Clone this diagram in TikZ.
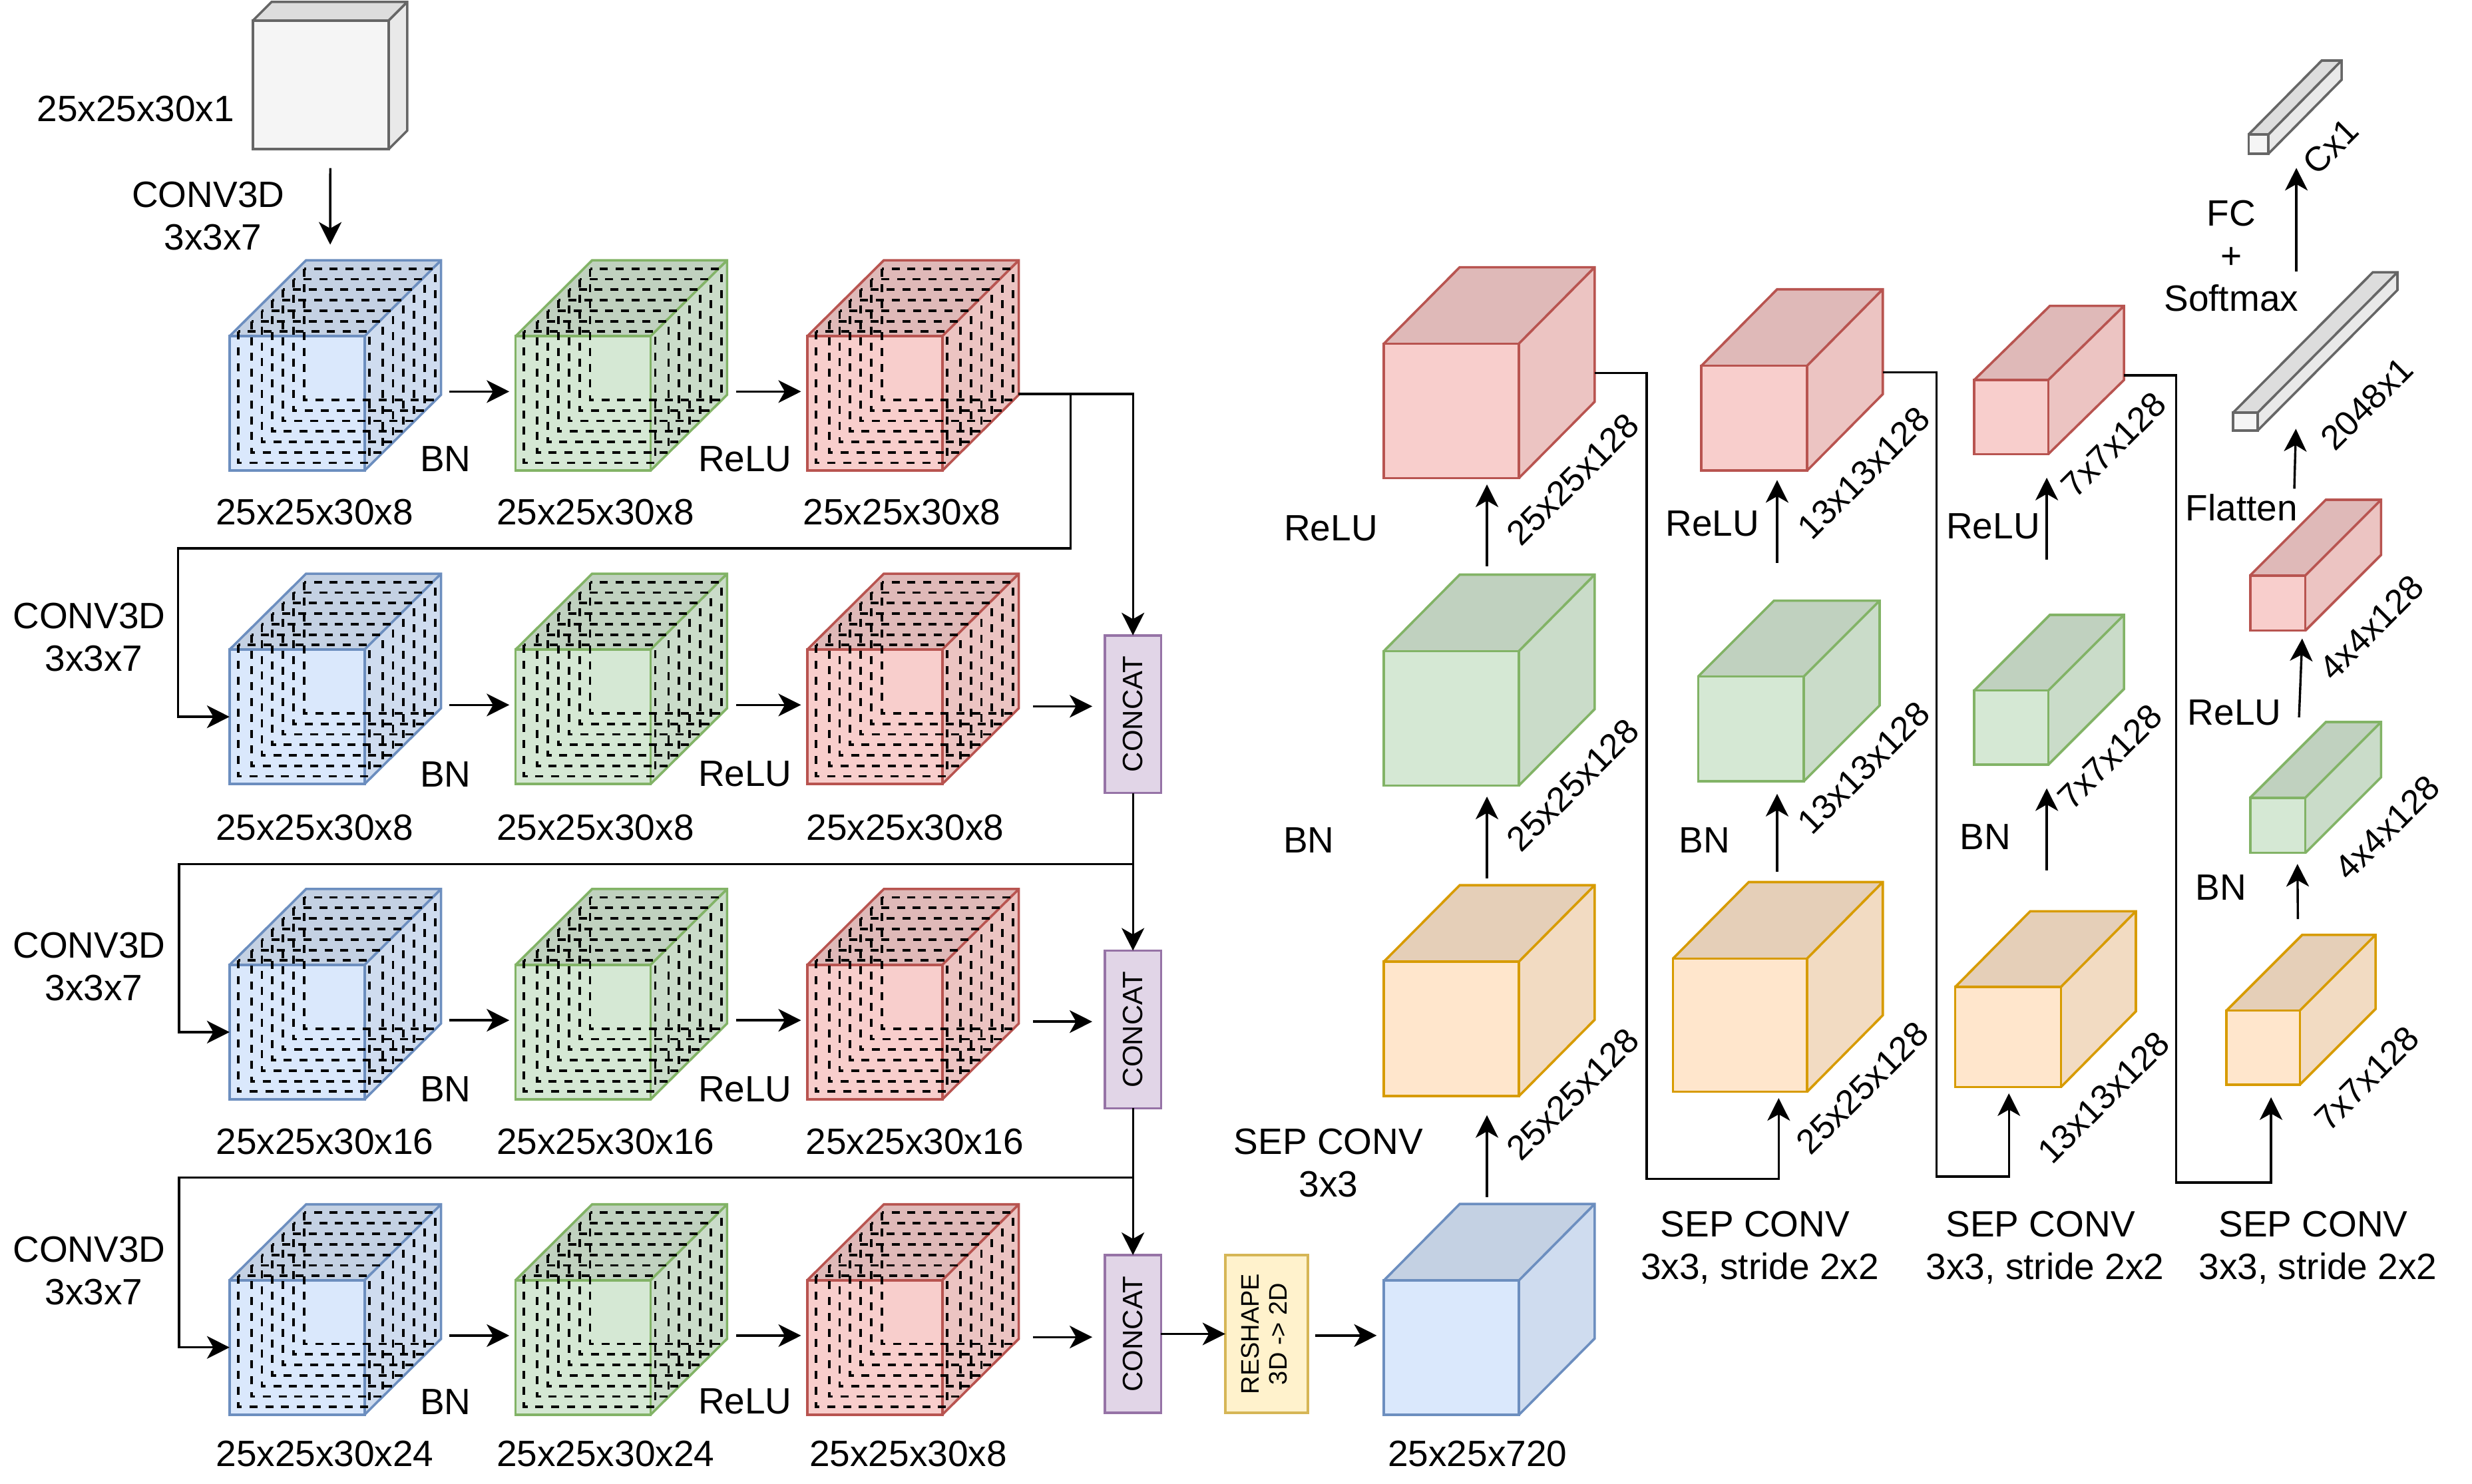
\documentclass[tikz,border=0pt]{standalone}
\usepackage{fontspec}
\setmainfont{Liberation Sans}
\usetikzlibrary{arrows.meta}
\definecolor{bF}{HTML}{DAE8FC}\definecolor{bS}{HTML}{6C8EBF}
\definecolor{gF}{HTML}{D5E8D4}\definecolor{gS}{HTML}{82B366}
\definecolor{rF}{HTML}{F8CECC}\definecolor{rS}{HTML}{B85450}
\definecolor{oF}{HTML}{FFE6CC}\definecolor{oS}{HTML}{D79B00}
\definecolor{pF}{HTML}{E1D5E7}\definecolor{pS}{HTML}{9673A6}
\definecolor{yF}{HTML}{FFF2CC}\definecolor{yS}{HTML}{D6B656}
\definecolor{wF}{HTML}{F5F5F5}\definecolor{wS}{HTML}{666666}
\tikzset{
  arr/.style={-{Stealth[length=8.5pt,width=8.5pt,inset=2.4pt]},line width=0.85pt,black},
  lab/.style={inner sep=0pt,outer sep=0pt,font=\fontsize{13.75}{16}\selectfont,align=center},
  rlab/.style={inner sep=0pt,outer sep=0pt,font=\fontsize{13}{16}\selectfont,rotate=45},
  hatch/.style={black,line width=0.95pt,dash pattern=on 3pt off 2.95pt},
  barbox/.style={draw=#1S,fill=#1F,line width=0.9pt,inner sep=0pt,outer sep=0pt,text=black},
}
% name, x, y, w, h, dx, dy, colour key
\newcommand{\mycube}[8]{%
  \fill[#8F!90!black] (#2,#3) -- ++(#6,-#7) -- ++(#4,0) -- ++(-#6,#7) -- cycle;
  \fill[#8F!95!black] ({#2+#4},#3) -- ++(#6,-#7) -- ++(0,#5) -- ++(-#6,#7) -- cycle;
  \draw[#8S,line width=0.9pt,line join=miter] (#2,#3) -- ++(#6,-#7) -- ++(#4,0) -- ++(0,#5) -- ++(-#6,#7)
     ({#2+#4},#3) -- ++(#6,-#7);
  \node[barbox=#8,minimum width={#4*0.59225pt},minimum height={#5*0.59225pt}] (#1) at ({#2+#4/2},{#3+#5/2}) {};
}
% x, y of the front face: nested dashed squares
\newcommand{\myhatch}[2]{%
  \draw[hatch] ({#1+5.36},{#2-2.83}) rectangle ++(83.2,83.2);
  \foreach \i in {0,...,5} {
    \draw[hatch] ({#1+13.8+6.68*\i},{#2-9.4-6.68*\i}) rectangle ++(83.2,83.2);
  }
}
\newcommand{\hcube}[4]{\mycube{#1}{#2}{#3}{85.6}{85.3}{48.5}{48.1}{#4}\myhatch{#2}{#3}}
\begin{document}
\begin{tikzpicture}[x=0.59225pt,y=-0.59225pt]
\useasboundingbox (0,0) rectangle (1567.7,940.9);
% input
\mycube{inp}{160.4}{13}{86.1}{81.6}{11.8}{11.8}{w}
% 3D rows
\hcube{c11}{145.6}{213.2}{b}\hcube{c12}{327}{213.2}{g}\hcube{c13}{512}{213.2}{r}
\hcube{c21}{145.6}{412}{b}\hcube{c22}{327}{412}{g}\hcube{c23}{512}{412}{r}
\hcube{c31}{145.6}{612}{b}\hcube{c32}{327}{612}{g}\hcube{c33}{512}{612}{r}
\hcube{c41}{145.6}{812}{b}\hcube{c42}{327}{812}{g}\hcube{c43}{512}{812}{r}
% concat and reshape
\node[barbox=p,minimum width={35.6*0.59225pt},minimum height={100*0.59225pt}] (con1) at (718.5,453) {\rotatebox{90}{\fontsize{10.5}{12}\selectfont CONCAT}};
\node[barbox=p,minimum width={35.6*0.59225pt},minimum height={100*0.59225pt}] (con2) at (718.5,653) {\rotatebox{90}{\fontsize{10.5}{12}\selectfont CONCAT}};
\node[barbox=p,minimum width={35.6*0.59225pt},minimum height={100*0.59225pt}] (con3) at (718.5,846.1) {\rotatebox{90}{\fontsize{10.5}{12}\selectfont CONCAT}};
\node[barbox=y,minimum width={52.4*0.59225pt},minimum height={100*0.59225pt}] (rs) at (803.2,846.1) {\rotatebox{90}{\fontsize{9.5}{11.5}\selectfont\begin{tabular}{@{}c@{}}RESHAPE\\[-1pt]3D -> 2D\end{tabular}}};
% 2D columns
\mycube{b1}{877.6}{812.2}{85.6}{85.3}{48.1}{48.5}{b}
\mycube{o1}{877.6}{610}{85.6}{85.3}{48.1}{48.5}{o}
\mycube{g1}{877.6}{413}{85.6}{85.3}{48.1}{48.5}{g}
\mycube{r1}{877.6}{218}{85.6}{85.3}{48.1}{48.5}{r}
\mycube{o2}{1061}{608}{85}{84.5}{48}{48.5}{o}
\mycube{g2}{1077}{429}{67}{66.5}{48}{48}{g}
\mycube{r2}{1079}{232}{67}{66.5}{48}{48.5}{r}
\mycube{o3}{1240}{626}{67}{63.5}{47.5}{48}{o}
\mycube{g3}{1252}{438}{47}{47}{48}{48}{g}
\mycube{r3}{1252}{241}{47}{47}{48}{47}{r}
\mycube{o4}{1412}{641}{46.5}{47}{48}{48}{o}
\mycube{g4}{1427}{506}{35}{35}{48}{48}{g}
\mycube{r4}{1427}{365}{35}{35}{48}{48}{r}
\mycube{bar1}{1416.2}{261.7}{15.6}{11.3}{88.6}{89}{w}
\mycube{bar2}{1426}{85.3}{12.6}{12.2}{46.4}{46.9}{w}
% arrows
\draw[arr] ([shift={(6,12)}]inp.south) -- ([shift={(21,-58)}]c11.north);
\foreach \r in {1,2,3,4} {
  \draw[arr] ([shift={(53.8,-7.5)}]c\r1.east) -- ([shift={(-4,-7.5)}]c\r2.west);
  \draw[arr] ([shift={(54.4,-7.5)}]c\r2.east) -- ([shift={(-4,-7.5)}]c\r3.west);
}
\draw[arr] ([shift={(57.4,-6.65)}]c23.east) -- ([shift={(-8,-5)}]con1.west);
\draw[arr] ([shift={(57.4,-6.65)}]c33.east) -- ([shift={(-8,-5)}]con2.west);
\draw[arr] ([shift={(57.4,-6.55)}]c43.east) -- ([shift={(-8,2)}]con3.west);
\draw[arr] ([shift={(48.4,-6)}]c13.east) -| (con1.north);
\draw[arr] ([shift={(81.4,-6)}]c13.east) -- ++(0,98) -- ++(-566,0) |- (c21.west);
\draw[arr] (con1.south) -- (con2.north);
\draw[arr] ([shift={(0,45)}]con1.south) -- ++(-605,0) |- (c31.west);
\draw[arr] (con2.south) -- (con3.north);
\draw[arr] ([shift={(0,44)}]con2.south) -- ++(-605,0) |- (c41.west);
\draw[arr] (con3.east) -- (rs.west);
\draw[arr] ([shift={(4.5,1)}]rs.east) -- ([shift={(-4.5,-7.75)}]b1.west);
\draw[arr] ([shift={(22.6,-53)}]b1.north) -- ([shift={(22.6,12)}]o1.south);
\draw[arr] ([shift={(22.6,-53)}]o1.north) -- ([shift={(22.6,7)}]g1.south);
\draw[arr] ([shift={(22.6,-54)}]g1.north) -- ([shift={(22.6,4)}]r1.south);
\draw[arr] ([shift={(48,-24)}]r1.east) -- ++(33,0) -- ++(0,511) -| ([shift={(24.5,4)}]o2.south);
\draw[arr] ([shift={(48,-29)}]r2.east) -- ++(34,0) -- ++(0,510) -| ([shift={(0.5,4)}]o3.south);
\draw[arr] ([shift={(48,-26.5)}]r3.east) -- ++(33,0) -- ++(0,512) -| ([shift={(5,8)}]o4.south);
\draw[arr] ([shift={(23.5,-55)}]o2.north) -- ([shift={(16.5,8)}]g2.south);
\draw[arr] ([shift={(16.5,-72)}]g2.north) -- ([shift={(14.5,6)}]r2.south);
\draw[arr] ([shift={(24.5,-74)}]o3.north) -- ([shift={(22.5,15)}]g3.south);
\draw[arr] ([shift={(22.5,-83)}]g3.north) -- ([shift={(22.5,15)}]r3.south);
\draw[arr] ([shift={(22,-58)}]o4.north) -- ([shift={(12.5,7)}]g4.south);
\draw[arr] ([shift={(13.5,-51)}]g4.north) -- ([shift={(15.5,5)}]r4.south);
\draw[arr] ([shift={(10.5,-55)}]r4.north) -- ([shift={(32,-1)}]bar1.south);
\draw[arr] ([shift={(32.3,-89.5)}]bar1.north) -- ([shift={(24,9)}]bar2.south);
% labels
\node[lab] (l01) at (86,69) {25x25x30x1};
\node[lab] (l02) at (135,137) {CONV3D\hspace*{3.5pt}\\3x3x7};
\node[lab] (l03) at (59.5,404) {CONV3D\hspace*{3.5pt}\\3x3x7};
\node[lab] (l04) at (59.5,613) {CONV3D\hspace*{3.5pt}\\3x3x7};
\node[lab] (l05) at (59.5,806) {CONV3D\hspace*{3.5pt}\\3x3x7};
\foreach \y/\n in {291/1,491/2,691/3,889/4} {
  \node[lab] (bn\n) at (282.5,\y) {BN};
  \node[lab] (re\n) at (472.5,\y) {ReLU};
}
\node[lab] (d11) at (199.5,325) {25x25x30x8};
\node[lab] (d12) at (377.5,325) {25x25x30x8};
\node[lab] (d13) at (572,325) {25x25x30x8};
\node[lab] (d21) at (199.5,525) {25x25x30x8};
\node[lab] (d22) at (377.5,525) {25x25x30x8};
\node[lab] (d23) at (574,525) {25x25x30x8};
\node[lab] (d31) at (206,724) {25x25x30x16};
\node[lab] (d32) at (384,724) {25x25x30x16};
\node[lab] (d33) at (580,724) {25x25x30x16};
\node[lab] (d41) at (206,922) {25x25x30x24};
\node[lab] (d42) at (384,922) {25x25x30x24};
\node[lab] (d43) at (576,922) {25x25x30x8};
\node[lab] (d50) at (937,922) {25x25x720};
\node[lab] (a1) at (844,335) {ReLU};
\node[lab] (a2) at (830,533) {BN};
\node[lab] (a3) at (842.5,737.5) {SEP CONV\\3x3};
\node[lab] (b1l) at (1086,332) {ReLU};
\node[lab] (b2l) at (1081,533) {BN};
\node[lab] (b3l) at (1116,791.5) {SEP CONV\hspace*{3.5pt}\\3x3, stride 2x2};
\node[lab] (c1l) at (1264,334) {ReLU};
\node[lab] (c2l) at (1259,531) {BN};
\node[lab] (c3l) at (1297,791.5) {SEP CONV\hspace*{3.5pt}\\3x3, stride 2x2};
\node[lab] (d1l) at (1417,452) {ReLU};
\node[lab] (d2l) at (1408.5,563) {BN};
\node[lab] (d3l) at (1470,791.5) {SEP CONV\hspace*{3.5pt}\\3x3, stride 2x2};
\node[lab] (d4l) at (1421.5,322) {Flatten};
\node[lab] (fc) at (1415,162.5) {FC\\+\\Softmax};
\node[rlab] (r01) at (997.5,304) {25x25x128};
\node[rlab] (r02) at (997.5,498) {25x25x128};
\node[rlab] (r03) at (997.5,694) {25x25x128};
\node[rlab] (r04) at (1182,300) {13x13x128};
\node[rlab] (r05) at (1182,487) {13x13x128};
\node[rlab] (r06) at (1181,690) {25x25x128};
\node[rlab] (r07) at (1340.5,282) {7x7x128};
\node[rlab] (r08) at (1338,480) {7x7x128};
\node[rlab] (r09) at (1334,696) {13x13x128};
\node[rlab] (r10) at (1504,398) {4x4x128};
\node[rlab] (r11) at (1514,525) {4x4x128};
\node[rlab] (r12) at (1501,684) {7x7x128};
\node[rlab] (r13) at (1501,256) {2048x1};
\node[rlab] (r14) at (1478,93) {Cx1};
\end{tikzpicture}
\end{document}
